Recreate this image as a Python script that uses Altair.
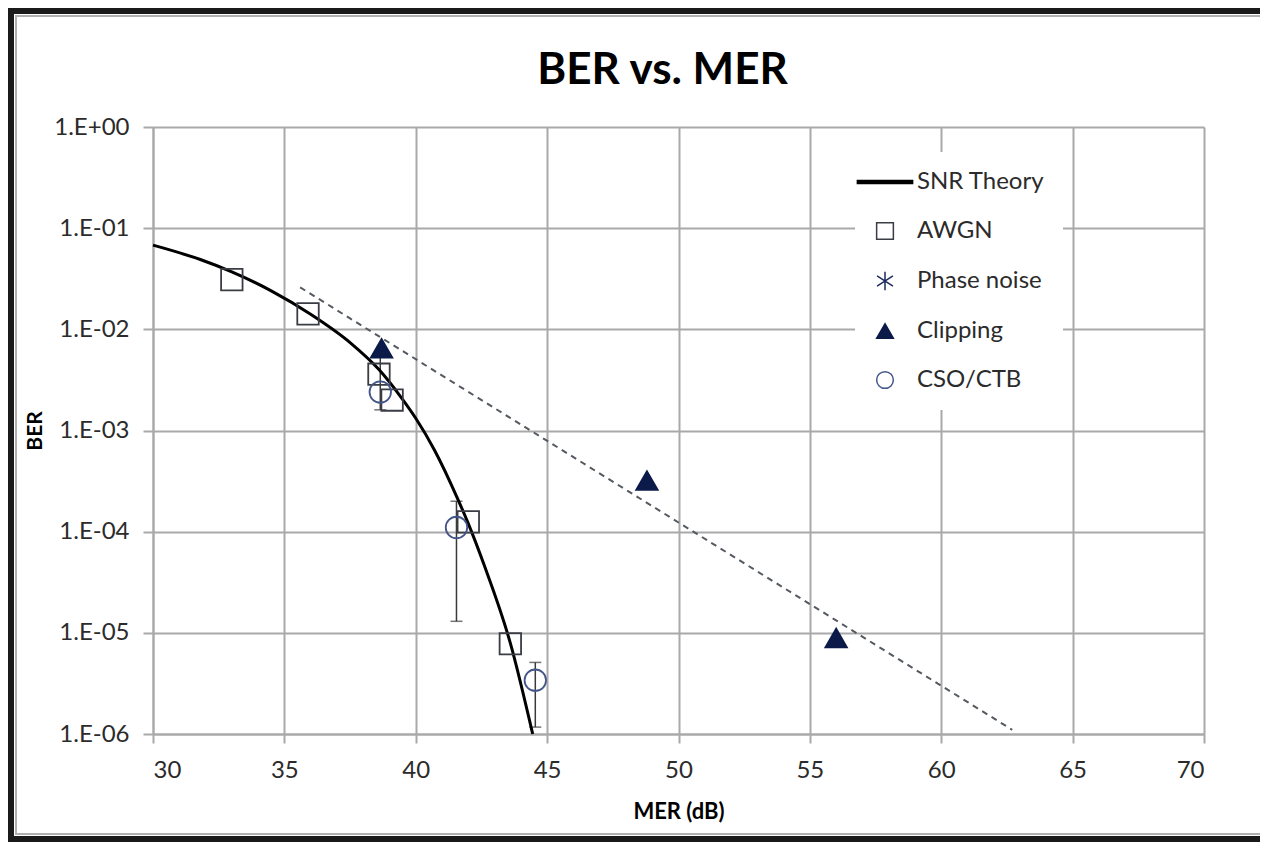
import altair as alt
import pandas as pd

# ---------------- data ----------------
series_order = ["SNR Theory", "AWGN", "Phase noise", "Clipping", "CSO/CTB"]

theory_mer = [30.0, 31.8, 33.0, 34.5, 36.0, 37.5, 38.6, 39.4, 40.0, 40.7, 41.6, 42.0, 42.6, 43.6, 44.45]
theory_ber = [6.8e-2, 4.9e-2, 3.7e-2, 2.4e-2, 1.41e-2, 7.4e-3, 4.0e-3, 2.2e-3, 1.32e-3,
              6.5e-4, 2.1e-4, 1.2e-4, 4.7e-5, 7.9e-6, 1.0e-6]

awgn_mer = [33.0, 35.9, 38.6, 39.1, 42.0, 43.6]
awgn_ber = [3.1e-2, 1.42e-2, 3.6e-3, 2.0e-3, 1.25e-4, 7.8e-6]

clip_mer = [38.7, 48.8, 56.0]
clip_ber = [6.5e-3, 3.2e-4, 8.9e-6]

cso_mer = [38.65, 41.55, 44.55]
cso_ber = [2.4e-3, 1.1e-4, 3.4e-6]
cso_lo = [1.6e-3, 1.3e-5, 1.17e-6]
cso_hi = [5.5e-3, 2.0e-4, 5.1e-6]

trend_mer = [35.6, 62.7]
trend_ber = [2.6e-2, 1.1e-6]

x_ticks = [30, 35, 40, 45, 50, 55, 60, 65, 70]
y_ticks = [1e-6, 1e-5, 1e-4, 1e-3, 1e-2, 1e-1, 1.0]

# ---------------- tables ----------------
theory_df = pd.DataFrame({"mer": theory_mer, "ber": theory_ber, "series": "SNR Theory"})
points_df = pd.concat([
    pd.DataFrame({"mer": awgn_mer, "ber": awgn_ber, "series": "AWGN"}),
    pd.DataFrame({"mer": clip_mer, "ber": clip_ber, "series": "Clipping"}),
    pd.DataFrame({"mer": cso_mer, "ber": cso_ber, "series": "CSO/CTB"}),
], ignore_index=True)
err_df = pd.DataFrame({"mer": cso_mer, "lo": cso_lo, "hi": cso_hi})
trend_df = pd.DataFrame({"mer": trend_mer, "ber": trend_ber})
frame_df = pd.DataFrame({"a": [0]})

FONT = "Lato"
GRID = "#a9a9a9"

x_axis = alt.Axis(values=x_ticks, title="MER (dB)", grid=True, gridColor=GRID, gridWidth=2,
                  domainColor=GRID, domainWidth=2, tickColor=GRID, tickWidth=2, tickSize=9,
                  labelFont=FONT, labelFontSize=24, labelColor="#2b2b2b", labelPadding=15,
                  titleFont=FONT, titleFontSize=22, titleFontWeight="bold", titleColor="#000",
                  titlePadding=19)
y_axis = alt.Axis(values=y_ticks, title="BER", grid=True, gridColor=GRID, gridWidth=2,
                  domainColor=GRID, domainWidth=2, tickColor=GRID, tickWidth=2, tickSize=10,
                  labelFont=FONT, labelFontSize=24, labelColor="#2b2b2b", labelPadding=14,
                  labelExpr="'1.E' + (datum.value >= 1 ? '+00' : '-0' + toString(round(-log(datum.value) / LN10)))",
                  titleFont=FONT, titleFontSize=21, titleFontWeight="bold", titleColor="#000",
                  titlePadding=8)

x_scale = alt.Scale(domain=[30, 70], nice=False, zero=False)
y_scale = alt.Scale(type="log", domain=[1e-6, 1], nice=False)


def X():
    return alt.X("mer:Q", scale=x_scale, axis=x_axis)


def Y(field="ber"):
    return alt.Y(f"{field}:Q", scale=y_scale, axis=y_axis)


line_path = "M-3.3,-0.18H3.3V0.18H-3.3Z"
asterisk = "M0,-1.1V1.1M-0.95,-0.6L0.95,0.6M-0.95,0.6L0.95,-0.6"

legend = alt.Legend(title=None, orient="none", legendX=702, legendY=25, fillColor="white",
                    padding=18, labelFont=FONT, labelFontSize=24, labelColor="#2b2b2b",
                    symbolSize=280, symbolStrokeWidth=1.5, labelOffset=20, rowPadding=25)

stroke_scale = alt.Scale(domain=series_order,
                         range=["#000000", "#3a3d44", "#1d2b5c", "#0b1a48", "#44558a"])
fill_scale = alt.Scale(domain=series_order,
                       range=["#000000", "transparent", "transparent", "#0b1a48", "transparent"])
shape_scale = alt.Scale(domain=series_order,
                        range=[line_path, "square", asterisk, "triangle-up", "circle"])

frame = alt.Chart(frame_df).mark_rect(fillOpacity=0, stroke="#1a1a1a", strokeWidth=6).encode(
    x=alt.value(-142), x2=alt.value(1200), y=alt.value(-116), y2=alt.value(712))
frame_inner = alt.Chart(frame_df).mark_rect(fillOpacity=0, stroke="#b0b0b0", strokeWidth=2).encode(
    x=alt.value(-137), x2=alt.value(1200), y=alt.value(-111), y2=alt.value(707))

errbars = alt.Chart(err_df).mark_errorbar(
    ticks={"size": 12, "color": "#3a3a3a", "thickness": 1.5},
    rule={"color": "#3a3a3a", "strokeWidth": 1.5},
).encode(x=X(), y=Y("lo"), y2=alt.Y2("hi:Q"))

theory = alt.Chart(theory_df).mark_line(strokeWidth=3, interpolate="monotone").encode(
    x=X(), y=Y(),
    stroke=alt.Stroke("series:N", scale=stroke_scale, legend=legend),
)

trend = alt.Chart(trend_df).mark_line(strokeWidth=2, strokeDash=[6, 5], color="#555a60").encode(
    x=X(), y=Y())

points = alt.Chart(points_df).mark_point(size=460, strokeWidth=1.8, opacity=1).encode(
    x=X(), y=Y(),
    shape=alt.Shape("series:N", scale=shape_scale, legend=legend),
    stroke=alt.Stroke("series:N", scale=stroke_scale, legend=legend),
    fill=alt.Fill("series:N", scale=fill_scale, legend=legend),
)

chart = alt.layer(frame, frame_inner, errbars, theory, trend, points).properties(
    width=1051, height=607,
    title=alt.TitleParams("BER vs. MER", font=FONT, fontSize=44, fontWeight="bold", color="#000",
                          anchor="middle", offset=-85, dx=-16),
    autosize=alt.AutoSizeParams(type="none"),
    padding={"left": 145, "top": 119, "right": 56, "bottom": 108},
    background="white",
).configure_view(stroke=None)

chart.save("out.html", embed_options={"renderer": "svg", "actions": False})
